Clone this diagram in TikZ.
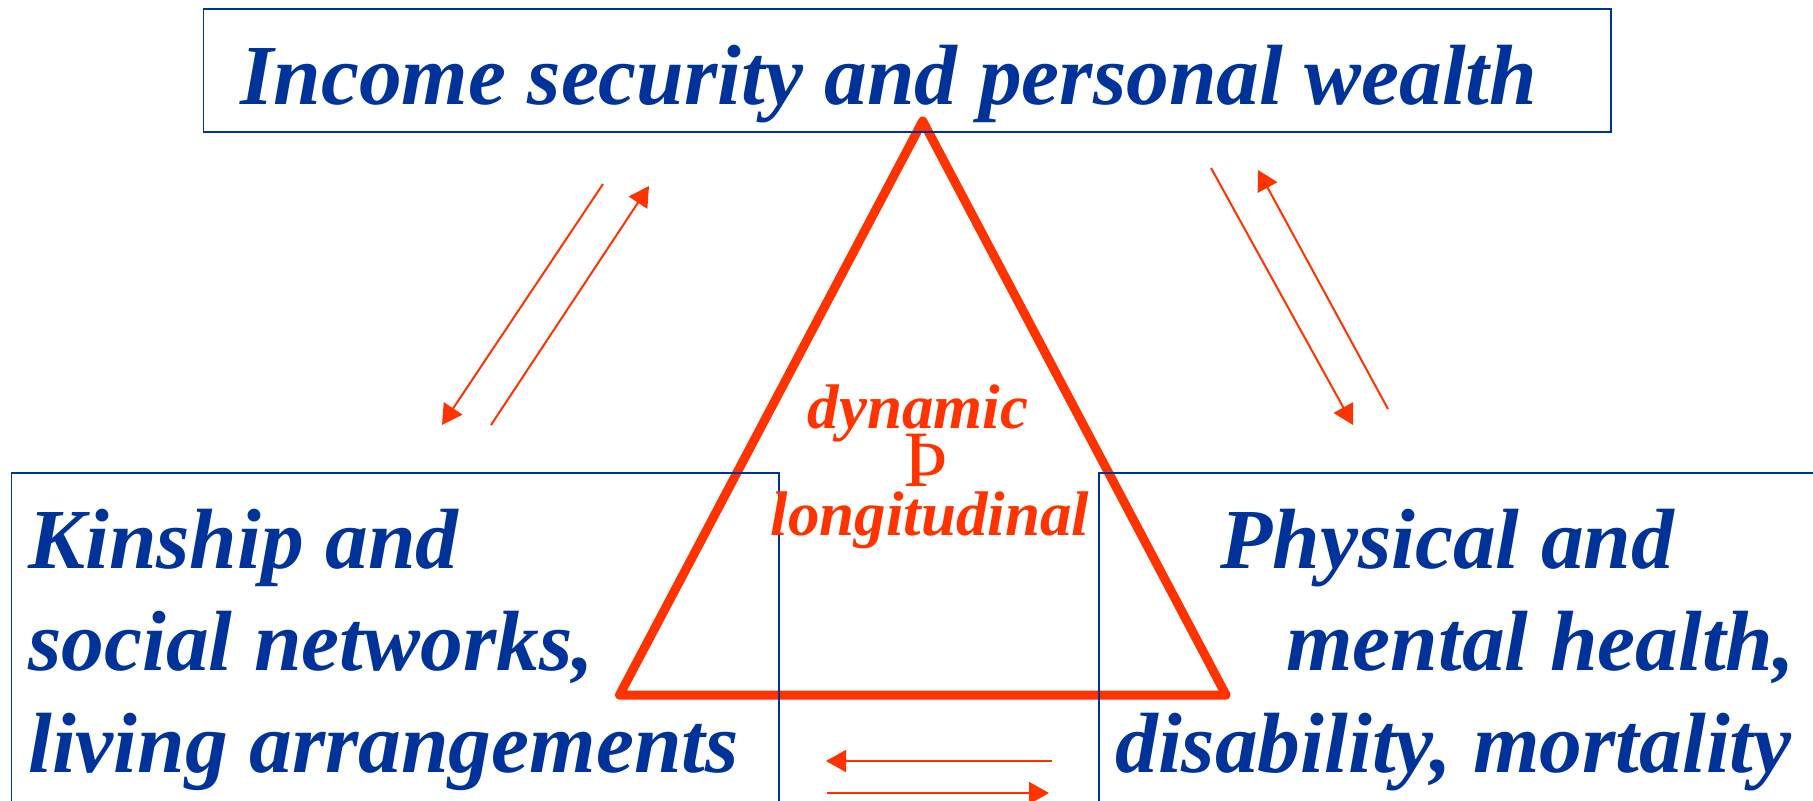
\documentclass[tikz,border=0pt]{standalone}
\usepackage{fontspec}
\setmainfont{Liberation Serif}
\usetikzlibrary{arrows.meta}
\definecolor{navy}{HTML}{003399}
\definecolor{flame}{HTML}{FF3300}

\begin{document}
\begin{tikzpicture}[x=0.5pt,y=-0.5pt,
    box/.style={draw=navy, line width=0.8pt},
    big/.style={text=navy, inner sep=0pt, anchor=base west, font=\fontsize{42.75}{51}\selectfont\bfseries\itshape},
    small/.style={text=flame, inner sep=0pt, anchor=base, font=\fontsize{31.5}{38}\selectfont\bfseries\itshape},
    link/.style={flame, line width=1pt, -{Triangle[length=10pt,width=11pt]}}]
    \useasboundingbox (0,0) rectangle (1813,800);
    \clip (0,0) rectangle (1813,800);
    \draw[flame, line width=4.5pt, line join=round] (922.7,121) -- (1226,695) -- (619.5,695) -- cycle; % triangle
    \draw[box] (203.5,9) rectangle (1611,132); % top box
    \draw[box] (11.5,473) rectangle (779,830); % left box
    \draw[box] (1099,473) rectangle (1830,830); % right box
    \node[big] (income) at (240,104) {Income security and personal wealth};
    \node[big] (kinA) at (28,568) {Kinship and};
    \node[big] (kinB) at (28,670) {social networks,};
    \node[big] (kinC) at (28,772) {living arrangements};
    \node[big] (hltA) at (1220,568) {Physical and};
    \node[big] (hltB) at (1286,670) {mental health,};
    \node[big] (hltC) at (1115,772) {disability, mortality};
    \node[small] (dyn) at (918,428) {dynamic}; % center text
    \node[small, font=\fontsize{40}{44}\selectfont] (thorn) at (926,486) {Þ};
    \node[small] (longi) at (930,535) {longitudinal};
    \coordinate (ul1) at (603,184); \coordinate (ul2) at (442,425);
    \coordinate (ul3) at (491,425); \coordinate (ul4) at (649,186);
    \coordinate (ur1) at (1211,168); \coordinate (ur2) at (1353,425);
    \coordinate (ur3) at (1388,409); \coordinate (ur4) at (1258,170);
    \coordinate (lo1) at (1052,761); \coordinate (lo2) at (826,761);
    \coordinate (lo3) at (827,793); \coordinate (lo4) at (1049,793);
    \draw[link] (ul1) -- (ul2); % income to kinship
    \draw[link] (ul3) -- (ul4); % kinship to income
    \draw[link] (ur1) -- (ur2); % income to health
    \draw[link] (ur3) -- (ur4); % health to income
    \draw[link] (lo1) -- (lo2); % health to kinship
    \draw[link] (lo3) -- (lo4); % kinship to health
\end{tikzpicture}
\end{document}
